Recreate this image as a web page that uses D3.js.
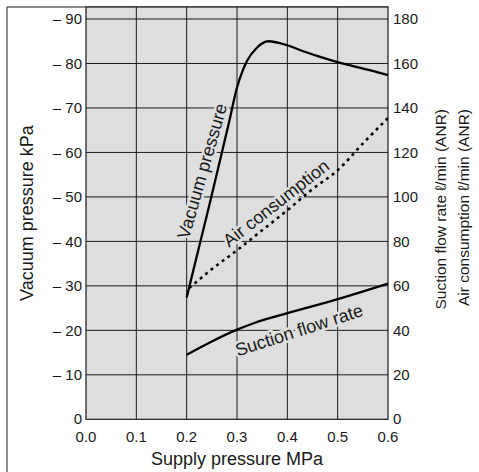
<!DOCTYPE html>
<html><head><meta charset="utf-8">
<script src="https://cdn.jsdelivr.net/npm/d3@7"></script>
<style>body{margin:0;background:#fff}svg{display:block;font-family:"Liberation Sans",Arial,Helvetica,sans-serif}</style>
</head><body>
<svg id="chart" width="479" height="472"></svg>
<script>
// ---- data ----
const xTicks = [0.0, 0.1, 0.2, 0.3, 0.4, 0.5, 0.6];
const leftTicks = [0, 10, 20, 30, 40, 50, 60, 70, 80, 90];
const rightTicks = [0, 20, 40, 60, 80, 100, 120, 140, 160, 180];

const vacuumSupply = [0.2, 0.233, 0.25, 0.27, 0.285, 0.3, 0.31, 0.32, 0.34, 0.362, 0.4, 0.43, 0.465, 0.5, 0.564, 0.6];
const vacuumKPa    = [27.4, 42.6, 50.5, 60, 67.2, 74.6, 78, 80.6, 83.6, 85, 84.1, 82.8, 81.5, 80.3, 78.5, 77.4];

const airSupply = [0.205, 0.25, 0.3, 0.35, 0.4, 0.45, 0.5, 0.55, 0.6];
const airFlow   = [59, 67.5, 76, 85, 94, 103.5, 112, 124, 135.5];

const suctionSupply = [0.2, 0.25, 0.3, 0.333, 0.4, 0.5, 0.6];
const suctionFlow   = [29, 35, 40.3, 43.2, 47.7, 54, 61];

// ---- drawing ----
const svg = d3.select("#chart");
const L = 86, R = 388, T = 7, B = 419.3;
const x = d3.scaleLinear().domain([0, 0.6]).range([L, R]);
const yL = d3.scaleLinear().domain([0, 90]).range([B, 19]);
const yR = d3.scaleLinear().domain([0, 180]).range([B, 19]);
const ink = "#1a1a1a";

// outer frame (left + top)
svg.append("line").attr("x1", 7).attr("y1", 7).attr("x2", 7).attr("y2", 472).attr("stroke", ink).attr("stroke-width", 1);
svg.append("line").attr("x1", 7).attr("y1", 7).attr("x2", R).attr("y2", 7).attr("stroke", ink).attr("stroke-width", 1);

// plot background
svg.append("rect").attr("x", L).attr("y", T).attr("width", R - L).attr("height", B - T).attr("fill", "#dedede");

// grid
const g = svg.append("g");
g.selectAll("line.v").data(xTicks.slice(1, -1)).join("line")
  .attr("x1", d => x(d)).attr("x2", d => x(d)).attr("y1", T).attr("y2", B)
  .attr("stroke", ink).attr("stroke-width", 1);
g.selectAll("line.h").data(leftTicks.slice(1)).join("line")
  .attr("x1", L).attr("x2", R).attr("y1", d => yL(d)).attr("y2", d => yL(d))
  .attr("stroke", ink).attr("stroke-width", 1);

// plot border
svg.append("rect").attr("x", L).attr("y", T).attr("width", R - L).attr("height", B - T)
  .attr("fill", "none").attr("stroke", ink).attr("stroke-width", 1.2);

// tick labels
const tickFont = 15;
svg.append("g").selectAll("text").data(leftTicks).join("text")
  .attr("x", 82).attr("y", d => yL(d)).attr("dy", d => d === 0 ? "0.28em" : "0.36em")
  .attr("text-anchor", "end").attr("font-size", tickFont).attr("fill", ink)
  .text(d => d === 0 ? "0" : "\u2013 " + d);
svg.append("g").selectAll("text").data(rightTicks).join("text")
  .attr("x", 393).attr("y", d => yR(d)).attr("dy", d => d === 0 ? "0.28em" : "0.36em")
  .attr("text-anchor", "start").attr("font-size", tickFont).attr("fill", ink)
  .text(d => d);
svg.append("g").selectAll("text").data(xTicks).join("text")
  .attr("x", d => x(d)).attr("y", 442)
  .attr("text-anchor", "middle").attr("font-size", tickFont).attr("fill", ink)
  .text(d => d.toFixed(1));

// axis titles
svg.append("text").attr("x", (L + R) / 2).attr("y", 465).attr("text-anchor", "middle")
  .attr("font-size", 18).attr("fill", ink).text("Supply pressure MPa");
svg.append("text").attr("transform", "translate(33,213) rotate(-90)").attr("text-anchor", "middle")
  .attr("font-size", 18).attr("fill", ink).text("Vacuum pressure kPa");
svg.append("text").attr("transform", "translate(446,109) rotate(-90)").attr("text-anchor", "end")
  .attr("font-size", 15.5).attr("fill", ink).text("Suction flow rate \u2113/min (ANR)");
svg.append("text").attr("transform", "translate(469,109) rotate(-90)").attr("text-anchor", "end")
  .attr("font-size", 15.5).attr("fill", ink).text("Air consumption \u2113/min (ANR)");

// curve labels (with knock-out halo over grid)
const labels = [
  {t: "Vacuum pressure", x: 202, y: 171, a: -74},
  {t: "Air consumption", x: 276, y: 203, a: -38},
  {t: "Suction flow rate", x: 299, y: 330, a: -18}
];
svg.append("g").selectAll("text").data(labels).join("text")
  .attr("transform", d => `translate(${d.x},${d.y}) rotate(${d.a})`)
  .attr("dy", "0.35em").attr("text-anchor", "middle").attr("font-size", 18)
  .attr("fill", ink).attr("stroke", "#dedede").attr("stroke-width", 5)
  .attr("paint-order", "stroke").text(d => d.t);

// curves
const line = d3.line().curve(d3.curveMonotoneX);
svg.append("path")
  .attr("d", line(vacuumSupply.map((s, i) => [x(s), yL(vacuumKPa[i])])))
  .attr("fill", "none").attr("stroke", "#000").attr("stroke-width", 2.3);
svg.append("path")
  .attr("d", line(airSupply.map((s, i) => [x(s), yR(airFlow[i])])))
  .attr("fill", "none").attr("stroke", "#000").attr("stroke-width", 2.6).attr("stroke-dasharray", "3,4");
svg.append("path")
  .attr("d", line(suctionSupply.map((s, i) => [x(s), yR(suctionFlow[i])])))
  .attr("fill", "none").attr("stroke", "#000").attr("stroke-width", 2.3);
</script>
</body></html>
